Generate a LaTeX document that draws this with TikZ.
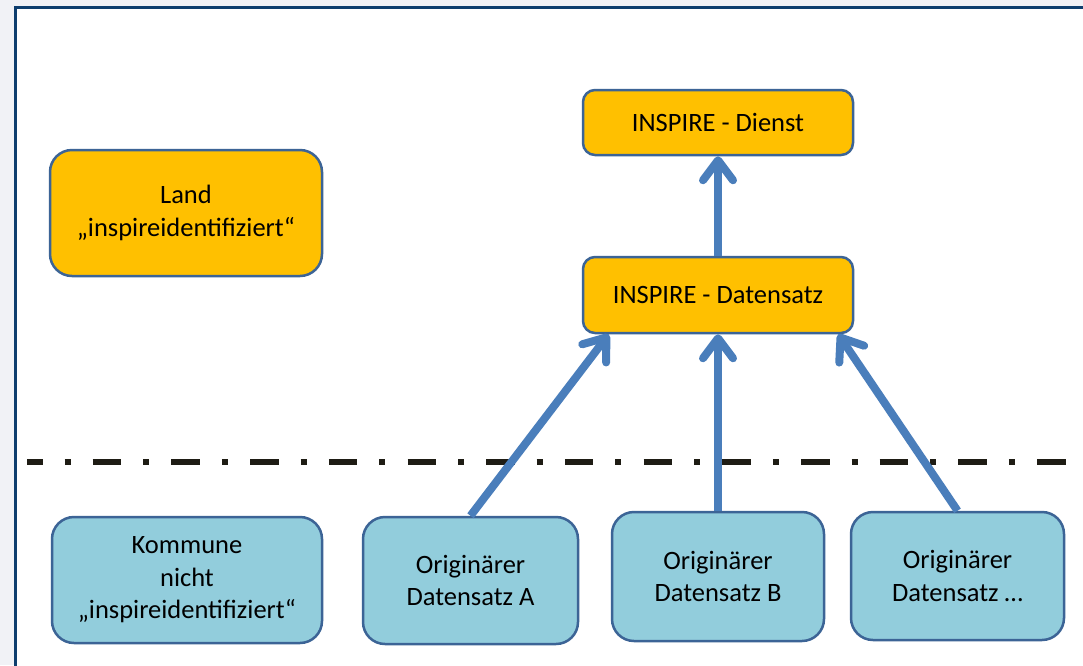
\documentclass[tikz,border=0pt]{standalone}
\usepackage{fontspec}
\setmainfont{Carlito}
\usetikzlibrary{arrows.meta,calc}
\definecolor{bggray}{RGB}{241,242,246}
\definecolor{framecol}{RGB}{14,62,110}
\definecolor{orangefill}{RGB}{255,192,0}
\definecolor{bluefill}{RGB}{146,205,220}
\definecolor{edgecol}{RGB}{60,100,150}
\definecolor{arrowcol}{RGB}{74,126,187}
\definecolor{dashcol}{RGB}{30,28,20}
\tikzset{
  box/.style={draw=edgecol, line width=2.5pt, inner sep=0pt, align=center,
    font=\fontsize{26.5}{32.5}\selectfont, text=black},
  orangebox/.style={box, fill=orangefill},
  bluebox/.style={box, fill=bluefill, rounded corners=22pt},
  flow/.style={draw=arrowcol, line width=8pt,
    -{Straight Barb[round, length=20pt, width=30pt]}},
  sepline/.style={draw=dashcol, line width=6pt,
    dash pattern=on 28.5pt off 22pt on 6pt off 22.2pt, dash phase=13pt}
}
\begin{document}
\begin{tikzpicture}[x=1pt, y=-1pt]
\useasboundingbox (0,0) rectangle (1083,665);
\clip (0,0) rectangle (1083,665);
\fill[bggray] (0,0) rectangle (1083,665);
\draw[framecol, fill=white, line width=2.5pt] (15.5,7.5) rectangle (1095,680);

% nodes
\node[orangebox, rounded corners=22pt, minimum width=272pt, minimum height=126pt] (land) at (186,213) {Land\\„inspireidentifiziert“};
\node[orangebox, rounded corners=12pt, minimum width=270pt, minimum height=65pt] (dienst) at (718,122.5) {INSPIRE - Dienst};
\node[orangebox, rounded corners=12pt, minimum width=270pt, minimum height=76pt] (datensatz) at (718,295) {INSPIRE - Datensatz};
\node[bluebox, minimum width=270pt, minimum height=126pt] (kommune) at (187,580) {Kommune\\nicht\\„inspireidentifiziert“};
\node[bluebox, minimum width=215pt, minimum height=127pt] (orgA) at (470.5,580.5) {Originärer\\Datensatz A};
\node[bluebox, minimum width=212pt, minimum height=129pt] (orgB) at (718,576.5) {Originärer\\Datensatz B};
\node[bluebox, minimum width=213pt, minimum height=128pt] (orgC) at (957.5,576) {Originärer\\Datensatz …};

% separator
\coordinate (sepL) at (27,462);
\coordinate (sepR) at (1066,462);
\draw[sepline] (sepL) -- (sepR);

% connectors
\draw[flow] (datensatz.north) -- (dienst.south);
\draw[flow] (orgA.north) -- ($(datensatz.south west)+(27pt,0)$);
\draw[flow] (orgB.north) -- (datensatz.south);
\draw[flow] (orgC.north) -- ($(datensatz.south east)+(-16pt,0)$);
\end{tikzpicture}
\end{document}
